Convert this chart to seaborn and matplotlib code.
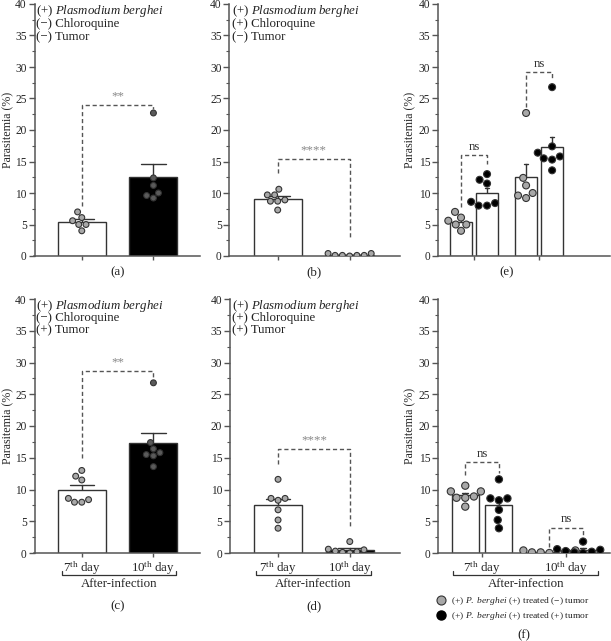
import numpy as np
import pandas as pd
import seaborn as sns
import matplotlib.pyplot as plt
from matplotlib.lines import Line2D
from matplotlib.ticker import MultipleLocator

DAYS = ['7$^{\\mathrm{th}}$ day', '10$^{\\mathrm{th}}$ day']
TUMOR = ['(−) tumor', '(+) tumor']

# Parasitemia (%) por camundongo
pb_d7 = [7.0, 6.1, 5.6, 5.0, 5.0, 4.0]                 # (a) sem tratamento, sem tumor
pb_d10 = [22.7, 12.4, 11.2, 10.0, 9.6, 9.2]
pb_cq_d7 = [10.6, 9.7, 9.7, 8.9, 8.7, 8.7, 7.3]        # (b) cloroquina, sem tumor
pb_cq_d10 = [0.4, 0.4, 0.1, 0.1, 0.1, 0.1, 0.0]
pb_tu_d7 = [13.0, 12.1, 11.5, 8.6, 8.4, 8.0, 8.0]      # (c) sem tratamento, com tumor
pb_tu_d10 = [26.8, 17.4, 16.4, 15.8, 15.5, 15.3, 13.6]
pb_cq_tu_d7 = [11.6, 8.6, 8.6, 8.3, 6.8, 5.2, 3.9]     # (d) cloroquina, com tumor
pb_cq_tu_d10 = [1.8, 0.6, 0.5, 0.3, 0.1, 0.0, 0.2]

GRAY = '#a8a8a8'
DARK = '#5a5a5a'
EDGE = '#333333'
AX = '#555555'
FS = 9.3

sns.set_style('ticks')
plt.rcParams['font.family'] = ['Liberation Serif', 'DejaVu Serif']
plt.rcParams['mathtext.fontset'] = 'custom'
plt.rcParams['mathtext.rm'] = 'Liberation Serif'
plt.rcParams['mathtext.it'] = 'Liberation Serif:italic'
plt.rcParams['font.size'] = FS
plt.rcParams['text.color'] = '#222222'

W, H = 611, 641
fig = plt.figure(figsize=(W / 100, H / 100), dpi=100)


def axpos(x0, x1, ytop, ybot):
    return fig.add_axes([x0 / W, 1 - ybot / H, (x1 - x0) / W, (ybot - ytop) / H])


def frame(d7, d10):
    return pd.DataFrame({'day': [DAYS[0]] * len(d7) + [DAYS[1]] * len(d10),
                         'val': d7 + d10})


def frame_hue(a7, a10, b7, b10):
    df1 = frame(a7, a10)
    df1['tumor'] = TUMOR[0]
    df2 = frame(b7, b10)
    df2['tumor'] = TUMOR[1]
    return pd.concat([df1, df2], ignore_index=True)


def style(ax, xlim, ticklabels):
    ax.set_ylim(0, 40)
    ax.set_xlim(*xlim)
    ax.yaxis.set_major_locator(MultipleLocator(5))
    ax.yaxis.set_minor_locator(MultipleLocator(2.5))
    sns.despine(ax=ax)
    for s in ['left', 'bottom']:
        ax.spines[s].set_color(AX)
        ax.spines[s].set_linewidth(1.1)
    ax.tick_params(axis='y', which='major', length=4, width=1, color=AX, labelsize=8.3, pad=1.5)
    ax.tick_params(axis='y', which='minor', length=2, width=0.8, color=AX)
    ax.tick_params(axis='x', length=3, width=1, color=AX, labelsize=FS, pad=2)
    ax.set_xlabel('')
    ax.set_ylabel('')
    if not ticklabels:
        ax.set_xticklabels([])


def ylabel(ax, x):
    ax.set_ylabel('Parasitemia (%)', fontsize=8.6)
    ax.yaxis.set_label_coords(x, 0.5)


def two_bars(ax, d7, d10, dots):
    df = frame(d7, d10)
    sns.barplot(data=df, x='day', y='val', hue='day', order=DAYS, hue_order=DAYS,
                palette=['white', 'black'], width=0.67, errorbar='se', capsize=0.34,
                err_kws={'color': EDGE, 'linewidth': 1, 'zorder': 0.5},
                edgecolor=EDGE, linewidth=1, legend=False, ax=ax)
    sns.swarmplot(data=df, x='day', y='val', hue='day', order=DAYS, hue_order=DAYS,
                  palette=dots, size=4.2, edgecolor=EDGE, linewidth=0.8,
                  legend=False, ax=ax, zorder=3)


def four_bars(ax, df, gap, cap, size):
    sns.barplot(data=df, x='day', y='val', hue='tumor', order=DAYS, hue_order=TUMOR,
                palette=['white', 'white'], gap=gap, errorbar='se', capsize=cap,
                err_kws={'color': EDGE, 'linewidth': 1, 'zorder': 0.5},
                edgecolor=EDGE, linewidth=1, legend=False, ax=ax)
    sns.swarmplot(data=df, x='day', y='val', hue='tumor', order=DAYS, hue_order=TUMOR,
                  dodge=True, palette=[GRAY, 'black'], size=size, edgecolor=EDGE,
                  linewidth=0.8, legend=False, ax=ax, zorder=3)


def sig(ax, x0, x1, y0, ytop, y1, label, color='#888888'):
    ax.plot([x0, x0, x1, x1], [y0, ytop, ytop, y1], ls=(0, (3, 2)), lw=1,
            color='#555555', zorder=4, clip_on=False)
    ax.text((x0 + x1) / 2, ytop + 0.4, label, ha='center', va='bottom',
            fontsize=FS, color=color)


def conditions(ax, lines, ys):
    for txt, y in zip(lines, ys):
        ax.text(0.012, y, txt, transform=ax.transAxes, ha='left', va='center', fontsize=FS)


def panel_label(ax, label, y):
    ax.text(0.5, y, label, transform=ax.get_xaxis_transform(), ha='center',
            va='center', fontsize=FS)


def after_infection(ax, x0, x1):
    tr = ax.get_xaxis_transform()
    ax.plot([x0, x0, x1, x1], [-0.071, -0.087, -0.087, -0.071], color='#333333',
            lw=0.9, transform=tr, clip_on=False)
    ax.text((x0 + x1) / 2, -0.124, 'After-infection', transform=tr, ha='center',
            va='center', fontsize=FS)


PB = '(+) $\\it{Plasmodium\\ berghei}$'

# (a)
ax = axpos(34.5, 200, 4, 256)
two_bars(ax, pb_d7, pb_d10, [GRAY, DARK])
style(ax, (-0.66, 1.65), False)
ylabel(ax, -0.12)
sig(ax, 0, 1, 8.0, 24.0, 23.3, '**')
conditions(ax, [PB, '(−) Chloroquine', '(−) Tumor'], [0.974, 0.921, 0.868])
panel_label(ax, '(a)', -0.063)

# (b)
ax = axpos(229.5, 400, 4, 256)
two_bars(ax, pb_cq_d7, pb_cq_d10, [GRAY, GRAY])
style(ax, (-0.67, 1.70), False)
sig(ax, 0, 1, 13.2, 15.4, 2.9, '****')
conditions(ax, [PB, '(+) Chloroquine', '(−) Tumor'], [0.974, 0.921, 0.868])
panel_label(ax, '(b)', -0.063)

# (e)
ax = axpos(438, 610, 4, 256)
four_bars(ax, frame_hue(pb_d7, pb_d10, pb_tu_d7, pb_tu_d10), 0.15, 0.14, 5.0)
style(ax, (-0.554, 2.09), False)
ylabel(ax, -0.125)
sig(ax, -0.2, 0.2, 7.7, 16.0, 14.6, 'ns', '#333333')
sig(ax, 0.8, 1.2, 23.6, 29.2, 27.9, 'ns', '#333333')
panel_label(ax, '(e)', -0.063)

# (c)
ax = axpos(34.5, 200, 299, 553)
two_bars(ax, pb_tu_d7, pb_tu_d10, [GRAY, DARK])
style(ax, (-0.66, 1.65), True)
ylabel(ax, -0.12)
sig(ax, 0, 1, 15.0, 28.7, 27.6, '**')
conditions(ax, [PB, '(−) Chloroquine', '(+) Tumor'], [0.974, 0.925, 0.876])
after_infection(ax, -0.28, 1.32)
panel_label(ax, '(c)', -0.209)

# (d)
ax = axpos(230, 400, 299, 553)
two_bars(ax, pb_cq_tu_d7, pb_cq_tu_d10, [GRAY, GRAY])
style(ax, (-0.67, 1.70), True)
sig(ax, 0, 1, 14.0, 16.4, 4.3, '****')
conditions(ax, [PB, '(+) Chloroquine', '(+) Tumor'], [0.974, 0.925, 0.876])
after_infection(ax, -0.31, 1.30)
panel_label(ax, '(d)', -0.209)

# (f)
ax = axpos(438, 610, 299, 553)
four_bars(ax, frame_hue(pb_cq_d7, pb_cq_d10, pb_cq_tu_d7, pb_cq_tu_d10), 0.2, 0.14, 5.2)
style(ax, (-0.524, 1.52), True)
ylabel(ax, -0.125)
sig(ax, -0.2, 0.2, 12.3, 14.3, 12.6, 'ns', '#333333')
sig(ax, 0.8, 1.2, 1.0, 4.0, 2.6, 'ns', '#333333')
after_infection(ax, -0.345, 1.38)
panel_label(ax, '(f)', -0.323)

handles = [Line2D([], [], ls='', marker='o', ms=6.5, mfc=GRAY, mec=EDGE, mew=0.8),
           Line2D([], [], ls='', marker='o', ms=6.5, mfc='black', mec='black')]
labels = ['(+) $\\it{P.}$ $\\it{berghei}$ (+) treated (−) tumor',
          '(+) $\\it{P.}$ $\\it{berghei}$ (+) treated (+) tumor']
fig.legend(handles, labels, loc='upper left', bbox_to_anchor=(436 / W, 1 - 595 / H),
           frameon=False, fontsize=6.8, handlelength=1.0, handletextpad=0.6,
           labelspacing=0.35, borderpad=0, borderaxespad=0)

fig.savefig('out.png', dpi=100)
